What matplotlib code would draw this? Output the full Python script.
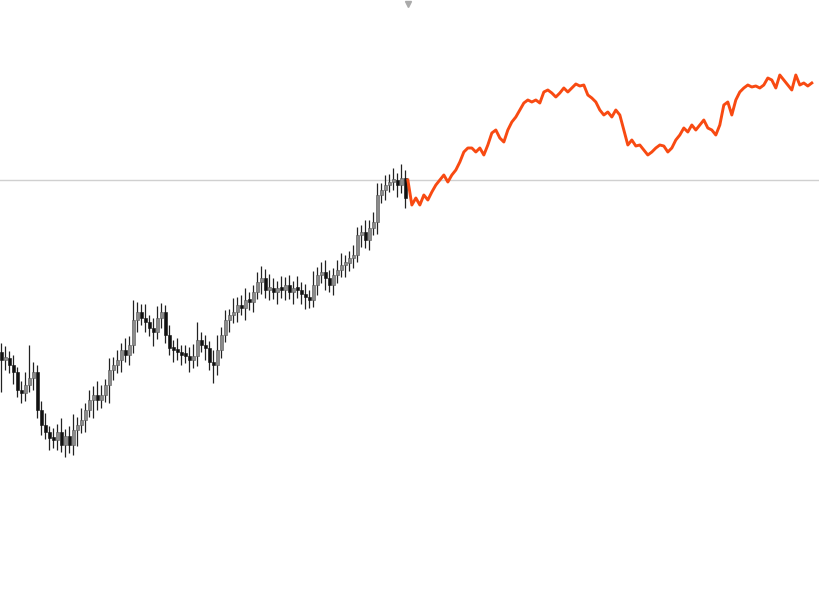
import numpy as np
import matplotlib.pyplot as plt

# candle data (price units)
first_open = 24.8
closes = [24.0, 24.2, 23.5, 22.8, 21.0, 20.7, 21.5, 22.2, 22.8, 19.0,
          17.5, 16.8, 16.2, 16.0, 16.8, 15.5, 16.4, 15.5, 17.0, 17.5,
          18.0, 19.0, 20.0, 20.5, 20.0, 20.5, 21.5, 23.0, 23.5, 24.0,
          25.0, 24.5, 25.5, 28.0, 28.8, 28.2, 27.8, 27.2, 26.8, 28.2,
          28.8, 26.5, 25.2, 25.0, 24.8, 24.5, 24.4, 24.0, 24.4, 26.0,
          25.5, 25.2, 23.8, 23.5, 25.0, 26.5, 28.0, 28.5, 28.8, 29.5,
          29.2, 30.0, 29.8, 30.8, 31.8, 32.2, 31.0, 31.2, 30.8, 31.2,
          31.0, 31.5, 30.8, 31.2, 31.0, 30.6, 30.3, 30.0, 31.5, 32.5,
          32.8, 32.2, 31.5, 32.5, 33.0, 33.5, 33.7, 34.2, 34.5, 36.5,
          36.8, 36.0, 37.2, 37.8, 40.5, 41.0, 41.5, 41.8, 42.0, 41.5,
          42.2, 40.2]
upper_wick = [0.9, 1.2, 0.7, 1.0, 0.5, 0.9, 1.3, 3.3, 1.0, 0.7,
              0.9, 1.2, 0.6, 1.0, 0.8, 1.4, 0.7, 1.0, 1.6, 0.8,
              1.2, 0.7, 1.0, 0.9, 1.4, 1.0, 0.6, 1.2, 0.8, 1.0,
              0.7, 1.2, 0.9, 2.0, 1.0, 0.8, 1.4, 0.7, 1.0, 1.2,
              0.9, 0.7, 1.0, 0.8, 1.2, 0.7, 1.0, 0.9, 1.2, 1.8,
              0.8, 1.0, 0.7, 1.2, 1.5, 0.8, 1.0, 0.6, 1.4, 0.8,
              1.0, 1.2, 0.8, 0.7, 1.0, 1.2, 0.9, 1.4, 1.0, 0.7,
              1.2, 0.8, 1.0, 0.7, 1.2, 0.8, 1.0, 0.7, 1.4, 0.8,
              1.0, 1.2, 0.8, 0.7, 1.0, 1.2, 0.8, 0.7, 1.0, 0.8,
              0.7, 1.2, 0.8, 1.0, 1.2, 0.7, 1.0, 0.8, 1.2, 0.7,
              1.4, 0.8]
lower_wick = [3.2, 1.0, 0.8, 1.2, 0.7, 1.0, 0.8, 0.7, 1.2, 0.8,
              1.0, 0.7, 1.2, 0.8, 1.0, 0.7, 1.2, 0.8, 1.0, 1.6,
              0.8, 1.2, 0.7, 1.8, 1.0, 0.8, 0.7, 1.8, 1.0, 0.8,
              1.2, 0.7, 1.0, 0.8, 1.2, 0.7, 1.0, 0.8, 1.4, 0.7,
              1.0, 0.8, 0.7, 1.2, 0.8, 1.0, 0.7, 1.2, 0.8, 1.0,
              0.7, 1.2, 0.8, 1.8, 1.0, 0.8, 0.7, 1.2, 0.8, 1.0,
              0.7, 1.2, 0.8, 1.0, 0.7, 1.2, 0.8, 1.0, 0.7, 1.2,
              0.8, 1.0, 0.7, 1.2, 0.8, 1.0, 1.2, 0.8, 0.7, 1.0,
              0.8, 1.2, 0.7, 1.0, 0.8, 0.7, 1.2, 0.8, 1.0, 0.7,
              1.2, 0.8, 1.0, 0.7, 1.2, 0.8, 1.0, 0.7, 0.8, 1.2,
              0.8, 1.0]

# forecast line (price units)
forecast = [42.0, 39.5, 40.2, 39.5, 40.5, 40.0, 40.8, 41.5, 42.0, 42.5,
            41.8, 42.5, 43.0, 43.8, 44.8, 45.2, 45.2, 44.8, 45.2, 44.5,
            45.5, 46.7, 47.0, 46.2, 45.8, 47.0, 47.8, 48.3, 49.0, 49.7,
            50.0, 49.8, 50.0, 49.7, 50.8, 51.0, 50.7, 50.3, 50.7, 51.2,
            50.8, 51.2, 51.6, 51.4, 51.5, 50.5, 50.2, 49.8, 49.0, 48.5,
            48.8, 48.3, 49.0, 48.5, 47.0, 45.5, 46.0, 45.4, 45.5, 45.0,
            44.5, 44.8, 45.2, 45.5, 45.4, 44.8, 45.2, 46.0, 46.5, 47.2,
            46.8, 47.5, 47.0, 47.5, 48.0, 47.2, 47.0, 46.5, 47.5, 49.5,
            49.8, 48.5, 50.0, 50.8, 51.2, 51.5, 51.3, 51.4, 51.2, 51.5,
            52.2, 52.0, 51.2, 52.5, 52.0, 51.5, 51.0, 52.5, 51.5, 51.7,
            51.4, 51.7]
ref_level = 42.0

closes = np.array(closes)
opens = np.concatenate([[first_open], closes[:-1]])
highs = np.maximum(opens, closes) + np.array(upper_wick)
lows = np.minimum(opens, closes) - np.array(lower_wick)
idx = np.arange(len(closes))

fig = plt.figure(figsize=(8.19, 6.0), dpi=100)
ax = fig.add_axes([0, 0, 1, 1])

ax.axhline(ref_level, color='#d0d0d0', lw=1, zorder=1)

ax.vlines(idx, lows, highs, color='#222222', lw=0.9, zorder=2)
up = closes >= opens
bottoms = np.minimum(opens, closes)
heights = np.maximum(np.abs(closes - opens), 0.3)
ax.bar(idx[up], heights[up], bottom=bottoms[up], width=0.7,
       color='#8a8a8a', edgecolor='#555555', lw=0.4, zorder=3)
ax.bar(idx[~up], heights[~up], bottom=bottoms[~up], width=0.7,
       color='#111111', edgecolor='#111111', lw=0.4, zorder=3)

fx = len(closes) - 0.4 + np.arange(len(forecast))
ax.plot(fx, forecast, color='#f84a12', lw=2.1, zorder=4, solid_joinstyle='round')

ax.plot([len(closes) - 0.4], [59.6], marker='v', color='#aaaaaa', ms=5, zorder=5)

ax.set_xlim(-0.375, 204.4)
ax.set_ylim(0, 60)
ax.axis('off')

fig.savefig('out.png', dpi=100)
